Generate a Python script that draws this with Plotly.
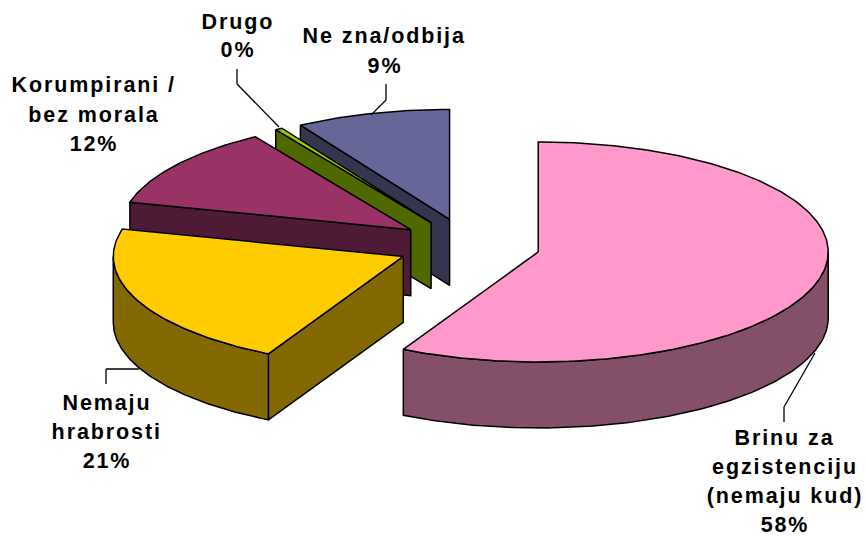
import numpy as np
import plotly.graph_objects as go

# --- data ---
categories = ["Brinu za<br>egzistenciju<br>(nemaju kud)", "Nemaju<br>hrabrosti",
              "Korumpirani /<br>bez morala", "Drugo", "Ne zna/odbija"]
values = [57.7, 21.3, 12.0, 0.4, 8.6]
top_colors = ["#FF99CC", "#FFCC00", "#993366", "#99CC00", "#666699"]
side_colors = ["#834F69", "#836900", "#4F1A35", "#4F6900", "#35354F"]

# --- chart layout (pixels) ---
CX, CY, RX, RY, EX, EY, DEPTH = 468.7, 245.5, 290.0, 110.0, 71.6, 27.0, 66.0
label_pos = [(785, 438), (107, 403), (94, 85), (238, 22), (385, 36)]
line_step = [29, 29, 29.5, 28, 30]
leaders = [[(784, 422), (784, 407), (815, 353)],
           [(106, 384), (106, 369), (139, 369)],
           [],
           [(237, 69), (237, 84), (279, 127)],
           [(386, 84), (386, 100), (371, 115)]]

fig = go.Figure()


def poly(xs, ys, fill, name):
    fig.add_trace(go.Scatter(x=xs, y=ys, mode="lines", fill="toself", fillcolor=fill,
                             line=dict(color="#000000", width=1.5),
                             name=name, hoverinfo="name", showlegend=False))


edges = np.cumsum([0.0] + values) / sum(values) * 2 * np.pi
slices = list(zip(categories, values, edges[:-1], edges[1:], top_colors, side_colors))

# painter's order: back slices first
for name, v, a0, a1, top, side in reversed(slices):
    label = name.replace("<br>", " ")
    mid = (a0 + a1) / 2
    ax = CX + EX * np.sin(mid)
    ay = CY - EY * np.cos(mid)
    px = lambda t: ax + RX * np.sin(t)
    py = lambda t: ay - RY * np.cos(t)

    # visible cut faces
    if np.sin(a0) < 0:
        poly([ax, px(a0), px(a0), ax, ax],
             [ay, py(a0), py(a0) + DEPTH, ay + DEPTH, ay], side, label)
    if np.sin(a1) > 0:
        poly([ax, px(a1), px(a1), ax, ax],
             [ay, py(a1), py(a1) + DEPTH, ay + DEPTH, ay], side, label)
    # visible rim (front half of the ellipse)
    lo, hi = max(a0, np.pi / 2), min(a1, 3 * np.pi / 2)
    if hi > lo:
        t = np.linspace(lo, hi, 120)
        poly(np.r_[px(t), px(t)[::-1], px(t)[0]],
             np.r_[py(t), py(t)[::-1] + DEPTH, py(t)[0]], side, label)
    # top face
    t = np.linspace(a0, a1, max(3, int((a1 - a0) * 80)))
    poly(np.r_[ax, px(t), ax], np.r_[ay, py(t), ay], top, label)

annotations = []
shapes = []
for name, v, (lx, ly), step, lead in zip(categories, values, label_pos, line_step, leaders):
    lines = name.split("<br>") + [f"{round(v)}%"]
    for i, s in enumerate(lines):
        annotations.append(dict(x=lx, y=ly + i * step, text=f"<b>{s}</b>", xref="x", yref="y",
                                showarrow=False, xanchor="center", yanchor="middle",
                                height=24, borderpad=0, width=max(120, len(s) * 13.5),
                                font=dict(family="Liberation Sans", size=21.5, color="#000000")))
    for (x0, y0), (x1, y1) in zip(lead[:-1], lead[1:]):
        shapes.append(dict(type="line", xref="x", yref="y", x0=x0, y0=y0, x1=x1, y1=y1,
                           line=dict(color="#000000", width=1.3)))

fig.update_layout(
    width=866, height=536, margin=dict(l=0, r=0, t=0, b=0),
    paper_bgcolor="#FFFFFF", plot_bgcolor="#FFFFFF", showlegend=False,
    xaxis=dict(range=[0, 866], visible=False, fixedrange=True),
    yaxis=dict(range=[536, 0], visible=False, fixedrange=True),
    annotations=annotations, shapes=shapes,
)
fig.write_html(
    "out.html",
    config={"displayModeBar": False},
    post_script="document.body.style.margin='0';"
                "document.querySelectorAll('.annotation-text').forEach(function(e){e.style.letterSpacing='1.9px';});",
)
